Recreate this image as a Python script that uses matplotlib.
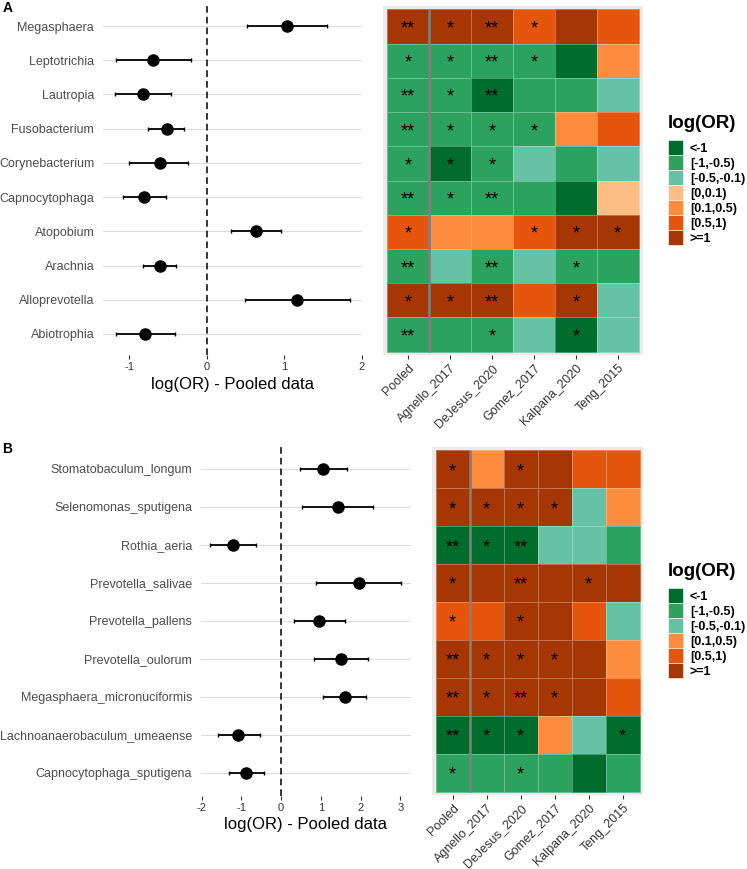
import numpy as np
import matplotlib
matplotlib.use('Agg')
import matplotlib.pyplot as plt
from matplotlib.colors import ListedColormap, BoundaryNorm
from matplotlib.patches import Patch

plt.rcParams['font.family'] = ['Liberation Sans', 'DejaVu Sans']
plt.rcParams['lines.scale_dashes'] = False
plt.rcParams['axes.unicode_minus'] = False

W, H = 747, 869

studies = ['Pooled', 'Agnello_2017', 'DeJesus_2020', 'Gomez_2017', 'Kalpana_2020', 'Teng_2015']
bins = ['<-1', '[-1,-0.5)', '[-0.5,-0.1)', '[0,0.1)', '[0.1,0.5)', '[0.5,1)', '>=1']
bin_colors = ['#006D2C', '#2CA25F', '#66C2A4', '#FDBE85', '#FD8D3C', '#E6550D', '#A63603']

# panel A - genera
genera_a = ['Megasphaera', 'Leptotrichia', 'Lautropia', 'Fusobacterium', 'Corynebacterium',
            'Capnocytophaga', 'Atopobium', 'Arachnia', 'Alloprevotella', 'Abiotrophia']
or_a = [1.03, -0.69, -0.83, -0.52, -0.61, -0.81, 0.63, -0.61, 1.16, -0.80]
lo_a = [0.52, -1.17, -1.19, -0.76, -1.00, -1.08, 0.31, -0.83, 0.49, -1.17]
hi_a = [1.55, -0.21, -0.46, -0.29, -0.24, -0.53, 0.95, -0.40, 1.85, -0.41]
# bin index per study (see bins)
cat_a = [[6, 6, 6, 5, 6, 5],
         [1, 1, 1, 1, 0, 4],
         [1, 1, 0, 1, 1, 2],
         [1, 1, 1, 1, 4, 5],
         [1, 0, 1, 2, 1, 2],
         [1, 1, 1, 1, 0, 3],
         [5, 4, 4, 5, 6, 6],
         [1, 2, 1, 2, 1, 1],
         [6, 6, 6, 5, 6, 2],
         [1, 1, 1, 2, 0, 2]]
sig_a = [['**', '*', '**', '*', '', ''],
         ['*', '*', '**', '*', '', ''],
         ['**', '*', '**', '', '', ''],
         ['**', '*', '*', '*', '', ''],
         ['*', '*', '*', '', '', ''],
         ['**', '*', '**', '', '', ''],
         ['*', '', '', '*', '*', '*'],
         ['**', '', '**', '', '*', ''],
         ['*', '*', '**', '', '*', ''],
         ['**', '', '*', '', '*', '']]

# panel B - species
species_b = ['Stomatobaculum_longum', 'Selenomonas_sputigena', 'Rothia_aeria', 'Prevotella_salivae',
             'Prevotella_pallens', 'Prevotella_oulorum', 'Megasphaera_micronuciformis',
             'Lachnoanaerobaculum_umeaense', 'Capnocytophaga_sputigena']
or_b = [1.05, 1.43, -1.21, 1.96, 0.96, 1.52, 1.60, -1.07, -0.87]
lo_b = [0.48, 0.54, -1.78, 0.88, 0.32, 0.84, 1.06, -1.58, -1.32]
hi_b = [1.65, 2.32, -0.64, 3.03, 1.60, 2.20, 2.14, -0.54, -0.43]
cat_b = [[6, 4, 6, 6, 5, 5],
         [6, 6, 6, 6, 2, 4],
         [0, 0, 0, 2, 2, 1],
         [6, 6, 6, 6, 6, 6],
         [5, 5, 6, 6, 5, 2],
         [6, 6, 6, 6, 6, 4],
         [6, 6, 6, 6, 6, 5],
         [0, 0, 0, 4, 2, 0],
         [1, 1, 1, 1, 0, 1]]
sig_b = [['*', '', '*', '', '', ''],
         ['*', '*', '*', '*', '', ''],
         ['**', '*', '**', '', '', ''],
         ['*', '', '**', '', '*', ''],
         ['*', '', '*', '', '', ''],
         ['**', '*', '*', '*', '', ''],
         ['**', '*', '**', '*', '', ''],
         ['**', '*', '*', '', '', '*'],
         ['*', '', '*', '', '', '']]


def box(x0, y0, x1, y1):
    return [x0 / W, 1 - y1 / H, (x1 - x0) / W, (y1 - y0) / H]


def forest(rect, names, est, lo, hi, ticks, xlab_y):
    ax = fig.add_axes(box(*rect))
    n = len(names)
    y = np.arange(n)[::-1]
    est, lo, hi = np.array(est), np.array(lo), np.array(hi)
    ax.axvline(0, color='black', lw=1.1, dashes=(4.8, 2.9), zorder=2)
    ax.errorbar(est, y, xerr=[est - lo, hi - est], fmt='o', color='black', ms=8,
                elinewidth=1.3, capsize=1.6, capthick=1, zorder=3)
    span = hi.max() - lo.min()
    ax.set_xlim(lo.min() - 0.05 * span, hi.max() + 0.05 * span)
    ax.set_ylim(-0.6, n - 1 + 0.6)
    ax.set_yticks(y)
    ax.set_yticklabels(names)
    ax.set_xticks(ticks)
    ax.grid(axis='y', color='#DCDCDC', lw=0.8)
    ax.set_axisbelow(True)
    for s in ax.spines.values():
        s.set_visible(False)
    ax.tick_params(axis='y', length=0, pad=6.3, labelsize=9, labelcolor='#4D4D4D')
    ax.tick_params(axis='x', length=3, width=0.8, color='#333333', pad=2.5,
                   labelsize=8, labelcolor='#333333')
    ax.set_xlabel('log(OR) - Pooled data', fontsize=12)
    ax.xaxis.label.set_va('center')
    hpx = rect[3] - rect[1]
    ax.xaxis.set_label_coords(0.5, -(xlab_y - rect[3]) / hpx)
    return ax


def heat(cells, pad, cats, sig):
    x0, y0, x1, y1 = cells
    cats = np.array(cats)
    n = cats.shape[0]
    cw = (x1 - x0) / 6
    ch = (y1 - y0) / n
    ax = fig.add_axes(box(x0 - pad[0], y0 - pad[1], x1 + pad[0], y1 + pad[1]))
    ax.set_facecolor('#EBEBEB')
    cmap = ListedColormap(bin_colors)
    norm = BoundaryNorm(np.arange(-0.5, len(bins) + 0.5, 1), cmap.N)
    ax.pcolormesh(np.arange(7) - 0.5, np.arange(n + 1) - 0.5, cats, cmap=cmap, norm=norm,
                  edgecolors=(1, 1, 1, 0.3), linewidth=0.5)
    ax.vlines(0.5, -0.5, n - 0.5, color='#7F7F7F', lw=1.9)
    for i in range(n):
        for j in range(6):
            if sig[i][j]:
                ax.text(j, i + 0.07, sig[i][j], ha='center', va='center', fontsize=13)
    ax.set_xlim(-0.5 - pad[0] / cw, 5.5 + pad[0] / cw)
    ax.set_ylim(n - 0.5 + pad[1] / ch, -0.5 - pad[1] / ch)
    for s in ax.spines.values():
        s.set_visible(False)
    ax.set_yticks([])
    ax.set_xticks(range(6))
    ax.set_xticklabels(studies, rotation=45, ha='right', rotation_mode='anchor')
    ax.tick_params(axis='x', length=3, width=0.8, color='#333333', pad=2,
                   labelsize=9, labelcolor='#333333')
    return ax


def legend(codes, title_y, keys_y):
    fig.text(668 / W, 1 - title_y / H, 'log(OR)', fontsize=13.5, fontweight='bold',
             ha='left', va='center')
    handles = [Patch(facecolor=bin_colors[c], edgecolor='white', lw=0.4, label=bins[c])
               for c in codes]
    fig.legend(handles=handles, loc='upper left', bbox_to_anchor=(668 / W, 1 - keys_y / H),
               frameon=False, prop={'weight': 'bold', 'size': 9},
               handlelength=1.2, handleheight=1.47, handletextpad=0.55,
               labelspacing=0.0, borderpad=0, borderaxespad=0)


fig = plt.figure(figsize=(W / 100, H / 100), dpi=100)

forest((103, 5.5, 362, 354.5), genera_a, or_a, lo_a, hi_a, [-1, 0, 1, 2], 384)
heat((387.3, 9.3, 638.7, 351.7), (4.3, 3.3), cat_a, sig_a)
legend(np.unique(cat_a), 123, 140)

forest((200.7, 446, 411, 795.5), species_b, or_b, lo_b, hi_b, [-2, -1, 0, 1, 2, 3], 824)
heat((435.7, 450, 639.7, 791.5), (3.4, 3.5), cat_b, sig_b)
legend(np.unique(cat_b), 572, 588)

fig.text(3 / W, 1 - 7.5 / H, 'A', fontsize=10, fontweight='bold', ha='left', va='center')
fig.text(2 / W, 1 - 449 / H, 'B', fontsize=10, fontweight='bold', ha='left', va='center')

fig.savefig('out.png', dpi=100, facecolor='white')
